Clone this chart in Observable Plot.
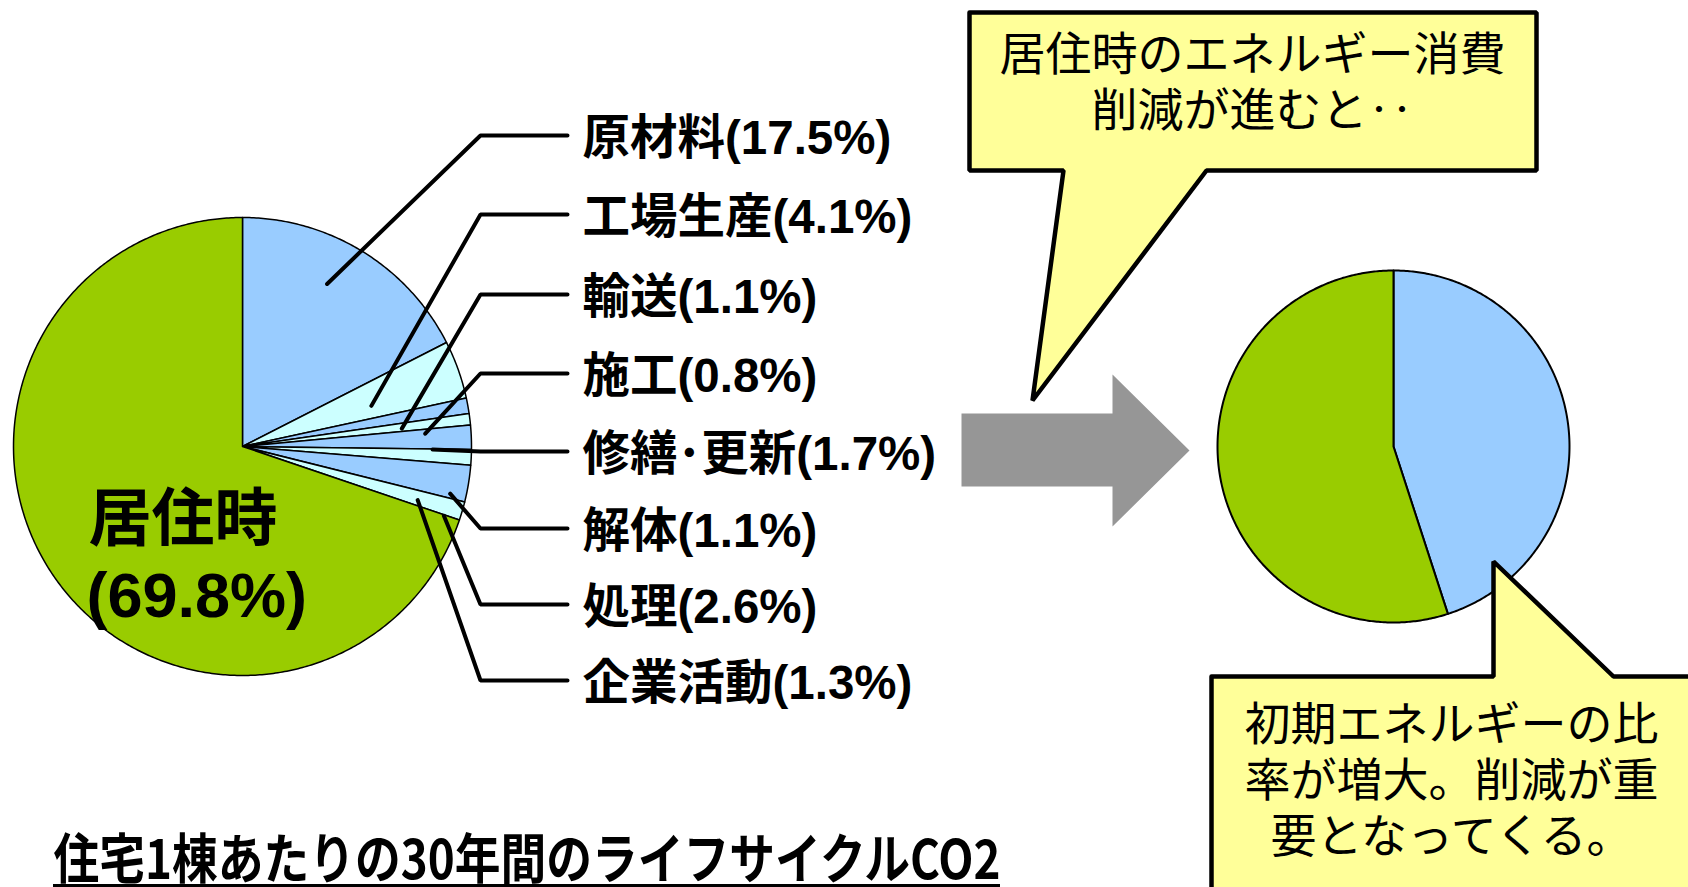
<!DOCTYPE html>
<html>
<head>
<meta charset="utf-8">
<script src="https://cdn.jsdelivr.net/npm/d3@7"></script>
<script src="https://cdn.jsdelivr.net/npm/@observablehq/plot@0.6"></script>
<style>
  html, body { margin: 0; padding: 0; background: #ffffff; }
  #chart svg { display: block; }
</style>
</head>
<body>
<div id="chart"></div>
<script>
// ---------- data ----------
const categories = ["原材料", "工場生産", "輸送", "施工", "修繕･更新", "解体", "処理", "企業活動", "居住時"];
const shares = [17.5, 4.1, 1.1, 0.8, 1.7, 1.1, 2.6, 1.3, 69.8];
const afterCategories = ["初期エネルギー", "居住時"];
const afterShares = [45, 55];
const calloutTopLines = ["居住時のエネルギー消費", "削減が進むと‥"];
const calloutBottomLines = ["初期エネルギーの比", "率が増大。削減が重", "要となってくる。"];
const titleText = "住宅1棟あたりの30年間のライフサイクルCO2";

// ---------- layout & style ----------
const W = 1688, H = 887;
const pieL = {cx: 242, cy: 446, r: 229};
const pieR = {cx: 1393, cy: 446, r: 176};
const BLUE = "#99CCFF", CYAN = "#CCFFFF", GREEN = "#99CC00", YELLOW = "#FFFF99", GREY = "#969696";
const latinCjkBold = "'Liberation Sans', Arial, 'Noto Sans CJK JP', sans-serif";
const cjk = "'Noto Sans CJK JP', sans-serif";

const labelX = 582, lineEndX = 567, elbowX = 480;
const labelY = [138, 217, 297, 376, 454, 531, 607, 683];
// leader anchors: [angle in degrees clockwise from 12 o'clock, radius fraction]
const leaderAnchors = [[27.5, 0.80], [72.5, 0.59], [83.6, 0.70], [86, 0.80], [90.9, 0.83], [102.8, 0.93], [109, 0.93], [107, 0.80]];

function sliceColor(i, n) { return i === n - 1 ? GREEN : (i % 2 === 0 ? BLUE : CYAN); }

function slicePoints(values, pie, prefix, colorFn) {
  const arcs = d3.pie().sort(null).value(d => d)(values);
  const pts = [];
  arcs.forEach((a, i) => {
    const id = prefix + i, fill = colorFn(i, values.length);
    pts.push({id, fill, x: pie.cx, y: pie.cy});
    const n = Math.max(2, Math.ceil((a.endAngle - a.startAngle) / 0.01));
    for (let k = 0; k <= n; k++) {
      const t = a.startAngle + (a.endAngle - a.startAngle) * k / n;
      pts.push({id, fill, x: pie.cx + pie.r * Math.sin(t), y: pie.cy - pie.r * Math.cos(t)});
    }
    pts.push({id, fill, x: pie.cx, y: pie.cy});
  });
  return pts;
}

const leftSlices = slicePoints(shares, pieL, "L", sliceColor);
const rightSlices = slicePoints(afterShares, pieR, "R", (i) => i === 0 ? BLUE : GREEN);

// leader lines
const leaderPts = [];
leaderAnchors.forEach(([deg, f], i) => {
  const t = deg * Math.PI / 180;
  const ly = labelY[i] - 3;
  leaderPts.push({id: i, x: pieL.cx + pieL.r * f * Math.sin(t), y: pieL.cy - pieL.r * f * Math.cos(t)});
  leaderPts.push({id: i, x: elbowX, y: ly});
  leaderPts.push({id: i, x: lineEndX, y: ly});
});

const labels = categories.slice(0, -1).map((c, i) => ({
  text: `${c}(${shares[i].toFixed(1)}%)`, x: labelX, y: labelY[i]
}));

// shapes (arrow and callouts)
function poly(id, fill, coords) {
  const pts = coords.map(([x, y]) => ({id, fill, x, y}));
  pts.push({...pts[0]});
  return pts;
}
const arrow = poly("arrow", GREY, [[961, 413], [1112, 413], [1112, 374], [1189, 450], [1112, 526], [1112, 486], [961, 486]]);
const callout1 = poly("c1", YELLOW, [[969, 12], [1536, 12], [1536, 170], [1206, 170], [1032, 400], [1063, 170], [969, 170]]);
const callout2 = poly("c2", YELLOW, [[1211, 676], [1493, 676], [1493, 561], [1613, 676], [1705, 676], [1705, 905], [1211, 905]]);

const c1Text = [{text: calloutTopLines.join("\n"), x: 1252, y: 80}];
const c2Text = [{text: calloutBottomLines.join("\n"), x: 1451, y: 778}];

const bigLabel = [
  {text: categories[categories.length - 1], x: 88, y: 519},
  {text: `(${shares[shares.length - 1].toFixed(1)}%)`, x: 86, y: 596}
];

const chart = Plot.plot({
  width: W, height: H,
  margin: 0,
  x: {domain: [0, W], range: [0, W], axis: null},
  y: {domain: [0, H], range: [0, H], axis: null},
  color: {type: "identity"},
  style: {background: "#ffffff"},
  marks: [
    Plot.line(leftSlices, {x: "x", y: "y", z: "id", fill: "fill", stroke: "#000", strokeWidth: 1.5, strokeLinejoin: "round", curve: "linear"}),
    Plot.line(leaderPts, {x: "x", y: "y", z: "id", stroke: "#000", strokeWidth: 4, strokeLinejoin: "miter", curve: "linear"}),
    Plot.text(labels, {x: "x", y: "y", text: "text", textAnchor: "start", fontSize: 47.5, fontWeight: "bold", fontFamily: latinCjkBold, fill: "#000"}),
    Plot.text(bigLabel, {x: "x", y: "y", text: "text", textAnchor: "start", fontSize: 63, fontWeight: "bold", fontFamily: latinCjkBold, fill: "#000"}),
    Plot.line(arrow, {x: "x", y: "y", z: "id", fill: "fill", stroke: "none", curve: "linear"}),
    Plot.line(rightSlices, {x: "x", y: "y", z: "id", fill: "fill", stroke: "#000", strokeWidth: 2, strokeLinejoin: "round", curve: "linear"}),
    Plot.line(callout1, {x: "x", y: "y", z: "id", fill: "fill", stroke: "#000", strokeWidth: 4.5, strokeLinejoin: "miter", curve: "linear"}),
    Plot.line(callout2, {x: "x", y: "y", z: "id", fill: "fill", stroke: "#000", strokeWidth: 4.5, strokeLinejoin: "miter", curve: "linear"}),
    Plot.text(c1Text, {x: "x", y: "y", text: "text", textAnchor: "middle", lineAnchor: "middle", lineHeight: 56 / 46, fontSize: 46, fontFamily: cjk, fill: "#000"}),
    Plot.text(c2Text, {x: "x", y: "y", text: "text", textAnchor: "middle", lineAnchor: "middle", lineHeight: 56 / 46, fontSize: 46, fontFamily: cjk, fill: "#000"}),
    Plot.text([titleText], {x: 53, y: 878, text: d => d, textAnchor: "start", lineAnchor: "bottom", fontSize: 54, fontWeight: "bold", fontFamily: cjk, fill: "#000"}),
    Plot.ruleY([885], {x1: 53, x2: 1000, stroke: "#000", strokeWidth: 3})
  ]
});

d3.select(chart).selectAll("text").filter(function () { return this.textContent === titleText; })
  .attr("textLength", 947).attr("lengthAdjust", "spacingAndGlyphs");

document.getElementById("chart").appendChild(chart);
</script>
</body>
</html>
